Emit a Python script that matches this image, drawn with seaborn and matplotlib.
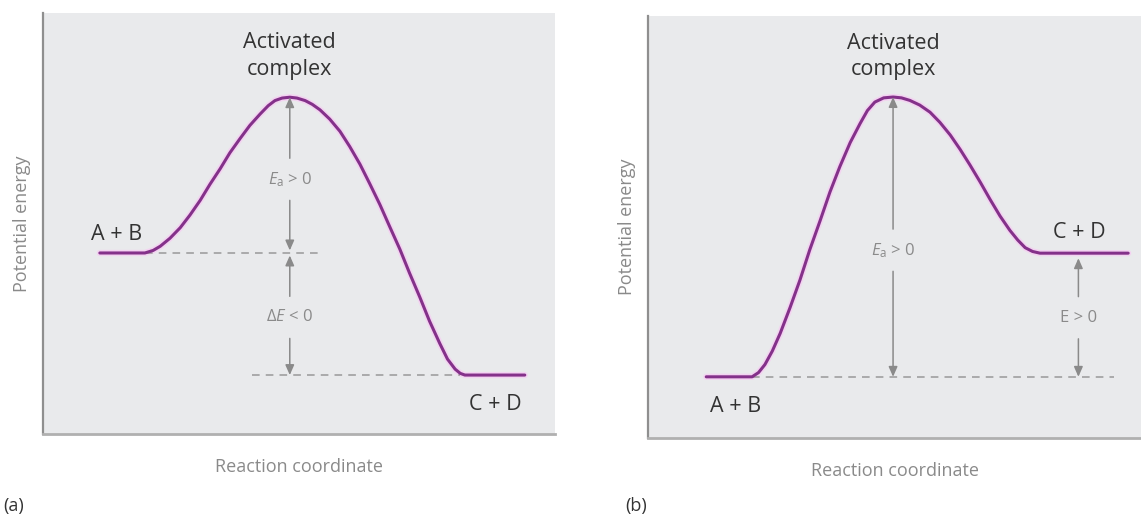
import matplotlib
matplotlib.use("Agg")
import matplotlib.pyplot as plt
import seaborn as sns
import pandas as pd

# curve points (reaction coordinate 0-100, energy 0-100)
a_x = [11.1, 19.9, 21.5, 22.9, 24.8, 26.8, 28.7, 30.7, 32.6, 34.6, 36.5, 38.5, 40.4,
       42.4, 44.0, 45.3, 46.7, 48.2, 49.6, 51.2, 52.6, 54.1, 56.0, 58.0, 59.9,
       61.9, 63.8, 65.8, 67.7, 69.7, 71.6, 73.6, 75.5, 77.5, 79.0, 80.5, 81.5,
       82.4, 94.1]
a_y = [43.0, 43.0, 43.6, 44.6, 46.5, 49.0, 52.0, 55.5, 59.3, 63.0, 66.8, 70.2, 73.3,
       76.0, 78.0, 79.2, 79.8, 80.0, 79.8, 79.2, 78.3, 77.0, 74.8, 71.9, 68.3,
       64.1, 59.5, 54.5, 49.3, 43.9, 38.2, 32.5, 26.8, 21.5, 17.8, 15.4, 14.4,
       14.0, 14.0]
b_x = [11.8, 21.1, 22.4, 23.7, 25.2, 26.8, 28.8, 30.8, 32.8, 34.9, 36.9, 38.9, 41.0,
       43.0, 44.5, 46.0, 47.8, 49.7, 51.4, 53.1, 55.1, 57.2, 59.2, 61.3, 63.3,
       65.3, 67.4, 69.4, 71.4, 73.4, 75.0, 76.5, 78.0, 79.5, 97.4]
b_y = [14.5, 14.5, 15.5, 17.4, 20.6, 24.8, 30.9, 37.4, 44.6, 51.5, 58.3, 64.3, 70.0,
       74.5, 77.6, 79.6, 80.6, 80.8, 80.6, 80.0, 78.9, 77.2, 74.8, 71.8, 68.4,
       64.7, 60.6, 56.5, 52.6, 49.2, 46.9, 45.1, 44.2, 43.8, 43.8]

# energy levels
a_react, a_peak, a_prod = 43.0, 80.0, 14.0
b_react, b_peak, b_prod = 14.5, 80.8, 43.8

BG = "#e9eaec"
PURPLE = "#84318a"
GREY = "#8a8a8a"
DARK = "#333333"
FONT = ["Open Sans", "DejaVu Sans"]

sns.set_theme(style="white")
plt.rcParams["font.family"] = FONT
plt.rcParams["mathtext.fontset"] = "custom"
plt.rcParams["mathtext.it"] = "Open Sans:italic"
plt.rcParams["mathtext.rm"] = "Open Sans"

fig = plt.figure(figsize=(11.41, 5.21), dpi=100)
ax1 = fig.add_axes([0.0377, 0.167, 0.4487, 0.808])
ax2 = fig.add_axes([0.568, 0.1593, 0.432, 0.810])


def setup(ax):
    ax.set_facecolor(BG)
    ax.set_xlim(0, 100)
    ax.set_ylim(0, 100)
    ax.set_xticks([])
    ax.set_yticks([])
    for s in ["top", "right"]:
        ax.spines[s].set_visible(False)
    ax.spines["left"].set_color("#8f8f8f")
    ax.spines["left"].set_linewidth(1.6)
    ax.spines["bottom"].set_color("#b0b0b0")
    ax.spines["bottom"].set_linewidth(2)
    ax.set_xlabel("Reaction coordinate", color=GREY, fontsize=13, labelpad=17)
    ax.set_ylabel("Potential energy", color=GREY, fontsize=13, labelpad=9)


def curve(ax, xs, ys):
    df = pd.DataFrame({"x": xs, "y": ys})
    sns.lineplot(data=df, x="x", y="y", ax=ax, color="#f3d3f1", lw=4.5,
                 sort=False, zorder=2)
    sns.lineplot(data=df, x="x", y="y", ax=ax, color=PURPLE, lw=2.2,
                 sort=False, zorder=3)
    ax.set_xlabel("")
    ax.set_ylabel("")


def arrow(ax, x, y0, y1, label, ly):
    # two arrows from the label gap to the ends
    kw = dict(arrowstyle="-|>,head_length=0.5,head_width=0.22", color=GREY, lw=1.1,
              shrinkA=0, shrinkB=0)
    ax.annotate("", xy=(x, y1), xytext=(x, ly + 5), arrowprops=kw)
    ax.annotate("", xy=(x, y0), xytext=(x, ly - 5), arrowprops=kw)
    ax.text(x, ly, label, color=GREY, fontsize=12, ha="center", va="center")


# panel (a)
curve(ax1, a_x, a_y)
setup(ax1)
ax1.hlines(a_react, a_x[1], 53.7, colors="#999999", linestyles=(0, (5, 4)), lw=1.1)
ax1.hlines(a_prod, 40.8, a_x[-3], colors="#999999", linestyles=(0, (5, 4)), lw=1.1)
arrow(ax1, a_x[17], a_react + 0.6, a_peak, r"$E_{\mathrm{a}}$ > 0", 60.5)
arrow(ax1, a_x[17], a_prod, a_react - 0.6, r"$\Delta E$ < 0", 27.7)
ax1.text(a_x[17], 95.5, "Activated\ncomplex", color=DARK, fontsize=15.5,
         ha="center", va="top", linespacing=1.35)
ax1.text(14.3, 45.0, "A + B", color=DARK, fontsize=15.5, ha="center", va="bottom")
ax1.text(88.3, 9.5, "C + D", color=DARK, fontsize=15.5, ha="center", va="top")

# panel (b)
curve(ax2, b_x, b_y)
setup(ax2)
ax2.hlines(b_react, b_x[1], 94.5, colors="#999999", linestyles=(0, (5, 4)), lw=1.1)
arrow(ax2, b_x[17], b_react, b_peak, r"$E_{\mathrm{a}}$ > 0", 44.5)
arrow(ax2, 87.3, b_react, b_prod - 1.2, "E > 0", 28.5)
ax2.text(b_x[17], 96.0, "Activated\ncomplex", color=DARK, fontsize=15.5,
         ha="center", va="top", linespacing=1.35)
ax2.text(87.5, 46.3, "C + D", color=DARK, fontsize=15.5, ha="center", va="bottom")
ax2.text(17.7, 10.0, "A + B", color=DARK, fontsize=15.5, ha="center", va="top")

fig.text(0.003, 0.02, "(a)", color=DARK, fontsize=13)
fig.text(0.548, 0.02, "(b)", color=DARK, fontsize=13)

fig.savefig("out.png", dpi=100, facecolor="white")
